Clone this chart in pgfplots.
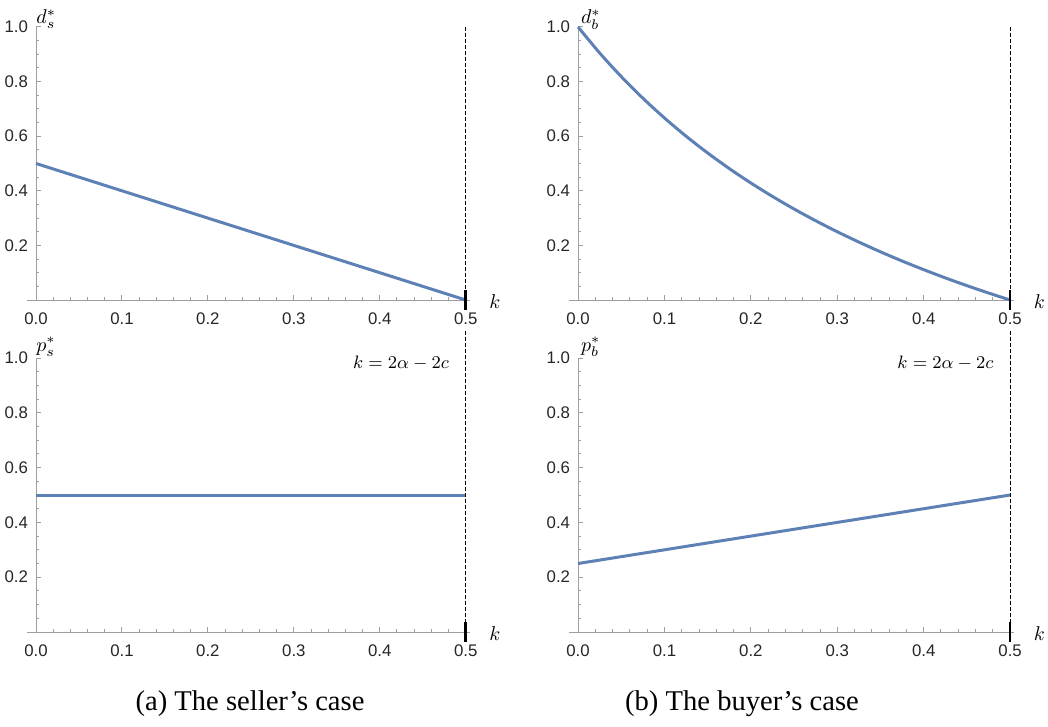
\documentclass[border=0pt]{standalone}
\usepackage{fontspec}
\setmainfont{Liberation Serif}
\newfontfamily\ticksf{Liberation Sans}
\usepackage{pgfplots}
\pgfplotsset{compat=1.18}
\definecolor{mblue}{RGB}{94,129,181}
\pgfplotsset{mstyle/.style={
  scale only axis,
  axis lines=middle,
  axis line style={-, gray!75, line width=0.5pt},
  xmin=-0.0105, xmax=0.505, ymin=0, ymax=1,
  xtick={0,0.1,0.2,0.3,0.4,0.5},
  xticklabels={0.0,0.1,0.2,0.3,0.4,0.5},
  ytick={0.2,0.4,0.6,0.8,1.0},
  yticklabels={0.2,0.4,0.6,0.8,1.0},
  minor xtick={0.02,0.04,0.06,0.08,0.12,0.14,0.16,0.18,0.22,0.24,0.26,0.28,0.32,0.34,0.36,0.38,0.42,0.44,0.46,0.48},
  minor ytick={0.05,0.1,0.15,0.25,0.3,0.35,0.45,0.5,0.55,0.65,0.7,0.75,0.85,0.9,0.95},
  tick align=inside,
  major tick length=2.4pt, minor tick length=1.4pt,
  every tick/.style={gray!75, line width=0.5pt},
  hide obscured x ticks=false, hide obscured y ticks=false,
  clip=false,
  tick label style={font=\ticksf\fontsize{8.4}{9}\selectfont, text=black!85},
  xticklabel style={yshift=-3pt},
  yticklabel style={xshift=-0.5pt},
}}
\tikzset{curve/.style={mblue, line width=1.5pt, line join=round, mark=none}}
\newcommand{\ml}{\fontsize{10.2}{12}\selectfont}
\newcommand{\mf}{\fontsize{9.5}{11}\selectfont}
\begin{document}
\begin{tikzpicture}
\path[use as bounding box] (0pt,0pt) rectangle (524pt,-363.5pt);
% top-left
\begin{axis}[mstyle, at={(13.5pt,-150pt)}, anchor=south west, width=221.5pt, height=136.5pt]
\addplot[curve] coordinates {(0,0.5) (0.5,0)};
\draw[black, dash pattern=on 2pt off 1pt, line width=0.5pt] (axis cs:0.5,1) -- (axis cs:0.5,0.035);
\draw[black, line width=1.4pt] (axis cs:0.5,-0.035) -- (axis cs:0.5,0.035);
\node[anchor=base west, inner sep=0] at (axis cs:0,1.012) {\ml $d_s^*$};
\node[anchor=base, inner sep=0] at (axis cs:0.534,-0.03) {\ml $k$};
\end{axis}
% bottom-left
\begin{axis}[mstyle, at={(13.5pt,-316pt)}, anchor=south west, width=221.5pt, height=137pt]
\addplot[curve] coordinates {(0,0.5) (0.5,0.5)};
\draw[black, dash pattern=on 2pt off 1pt, line width=0.5pt] (axis cs:0.5,1.1) -- (axis cs:0.5,0.035);
\draw[black, line width=1.4pt] (axis cs:0.5,-0.035) -- (axis cs:0.5,0.035);
\node[anchor=base west, inner sep=0] at (axis cs:0,1.025) {\ml $p_s^*$};
\node[anchor=base, inner sep=0] at (axis cs:0.534,-0.03) {\ml $k$};
\node[anchor=base east, inner sep=0] at (axis cs:0.481,0.963) {\mf $k = 2\alpha - 2c$};
\end{axis}
% top-right
\begin{axis}[mstyle, at={(284.5pt,-150pt)}, anchor=south west, width=222.7pt, height=136.5pt]
\addplot[curve, smooth] coordinates {(0,1) (0.025,0.904762) (0.05,0.818182) (0.075,0.739130) (0.1,0.666667) (0.125,0.6) (0.15,0.538462) (0.175,0.481481) (0.2,0.428571) (0.225,0.379310) (0.25,0.333333) (0.275,0.290323) (0.3,0.25) (0.325,0.212121) (0.35,0.176471) (0.375,0.142857) (0.4,0.111111) (0.425,0.081081) (0.45,0.052632) (0.475,0.025641) (0.5,0)};
\draw[black, dash pattern=on 2pt off 1pt, line width=0.5pt] (axis cs:0.5,1) -- (axis cs:0.5,0.035);
\draw[black, line width=1.4pt] (axis cs:0.5,-0.035) -- (axis cs:0.5,0.035);
\node[anchor=base west, inner sep=0] at (axis cs:0.003,1.012) {\ml $d_b^*$};
\node[anchor=base, inner sep=0] at (axis cs:0.534,-0.03) {\ml $k$};
\end{axis}
% bottom-right
\begin{axis}[mstyle, at={(284.5pt,-316pt)}, anchor=south west, width=222.7pt, height=137pt]
\addplot[curve] coordinates {(0,0.25) (0.5,0.5)};
\draw[black, dash pattern=on 2pt off 1pt, line width=0.5pt] (axis cs:0.5,1.1) -- (axis cs:0.5,0.035);
\draw[black, line width=1.4pt] (axis cs:0.5,-0.035) -- (axis cs:0.5,0.035);
\node[anchor=base west, inner sep=0] at (axis cs:0.003,1.025) {\ml $p_b^*$};
\node[anchor=base, inner sep=0] at (axis cs:0.534,-0.03) {\ml $k$};
\node[anchor=base east, inner sep=0] at (axis cs:0.481,0.963) {\mf $k = 2\alpha - 2c$};
\end{axis}
\node[font=\fontsize{14.3}{16}\selectfont] at (125pt,-352pt) {(a) The seller’s case};
\node[font=\fontsize{14.3}{16}\selectfont] at (371pt,-352pt) {(b) The buyer’s case};
\end{tikzpicture}
\end{document}
